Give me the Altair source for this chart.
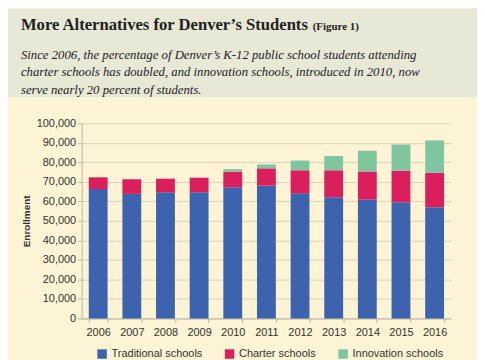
import altair as alt
import pandas as pd

years = ["2006", "2007", "2008", "2009", "2010", "2011", "2012", "2013", "2014", "2015", "2016"]
traditional = [66300, 63800, 64600, 64600, 67200, 68000, 64100, 62100, 60900, 59500, 57000]
charter = [6000, 7500, 7000, 7500, 8000, 8900, 11800, 13800, 14400, 16200, 17600]
innovation = [0, 0, 0, 0, 1300, 2000, 5000, 7300, 10600, 13400, 16600]
series = ["Traditional schools", "Charter schools", "Innovation schools"]
colors = ["#3d63ae", "#da1f5c", "#7fc6a0"]

title_text = "More Alternatives for Denver\u2019s Students"
figure_text = "(Figure 1)"
subtitle_lines = [
    "Since 2006, the percentage of Denver\u2019s K-12 public school students attending",
    "charter schools has doubled, and innovation schools, introduced in 2010, now",
    "serve nearly 20 percent of students.",
]

rows = []
for i, y in enumerate(years):
    for k, (name, vals) in enumerate(zip(series, [traditional, charter, innovation])):
        rows.append({"year": y, "type": name, "value": vals[i], "k": k})
df = pd.DataFrame(rows)

W, H = 371, 196
serif = "Liberation Serif"
sans = "Liberation Sans"

bars = alt.Chart(df).mark_bar().encode(
    x=alt.X("year:N", sort=years,
            scale=alt.Scale(paddingInner=0.44, paddingOuter=0.21),
            axis=alt.Axis(title=None, labelAngle=0, tickBand="extent", labelFontSize=11,
                          labelFont=sans, labelColor="#333333", domainColor="#b8b6a6",
                          tickColor="#b8b6a6", tickSize=4, labelPadding=4)),
    y=alt.Y("value:Q", stack="zero",
            scale=alt.Scale(domain=[0, 100000]),
            axis=alt.Axis(title="Enrollment", values=list(range(0, 100001, 10000)),
                          format=",d", labelFontSize=11, labelFont=sans,
                          labelColor="#333333", domainColor="#b8b6a6", tickColor="#b8b6a6",
                          tickSize=4, labelPadding=2, gridColor="#dcd4b6",
                          titleFont=sans, titleFontSize=10, titleFontWeight="bold",
                          titleColor="#333333", titleX=-50, titleY=98, titleAngle=-90,
                          titleBaseline="bottom")),
    color=alt.Color("type:N", scale=alt.Scale(domain=series, range=colors),
                    legend=alt.Legend(title=None, orient="none", direction="horizontal",
                                      legendX=15, legendY=226, symbolType="square",
                                      symbolSize=90, symbolStrokeWidth=0,
                                      labelFont=sans, labelFontSize=11,
                                      labelColor="#333333", columnPadding=21,
                                      labelOffset=4)),
    order=alt.Order("k:Q", sort="ascending"),
)

one = pd.DataFrame({"a": [0]})

header_bg = alt.Chart(one).mark_rect(color="#e8e8d6").encode(
    x=alt.value(-74), x2=alt.value(397), y=alt.value(-115), y2=alt.value(-26)
)

title_mark = alt.Chart(pd.DataFrame({"t": [title_text]})).mark_text(
    font=serif, fontSize=16.7, fontWeight="bold", color="#222222", align="left",
    baseline="alphabetic"
).encode(x=alt.value(-61), y=alt.value(-94), text="t:N")

fig_mark = alt.Chart(pd.DataFrame({"t": [figure_text]})).mark_text(
    font=serif, fontSize=11, fontWeight="bold", color="#222222", align="left",
    baseline="alphabetic"
).encode(x=alt.value(232), y=alt.value(-94), text="t:N")

sub_df = pd.DataFrame({"t": subtitle_lines, "yy": [-65, -47, -29]})
sub_mark = alt.Chart(sub_df).mark_text(
    font=serif, fontSize=12.8, fontStyle="italic", color="#222222", align="left",
    baseline="alphabetic"
).encode(x=alt.value(-61), y=alt.Y("yy:Q", scale=None), text="t:N")

chart = alt.layer(header_bg, bars, title_mark, fig_mark, sub_mark).properties(
    width=W, height=H, padding=0, background="#fcf4d4"
).configure_view(stroke=None).configure_axisX(grid=False)

chart.save("out.html", embed_options={"renderer": "svg", "actions": False})
